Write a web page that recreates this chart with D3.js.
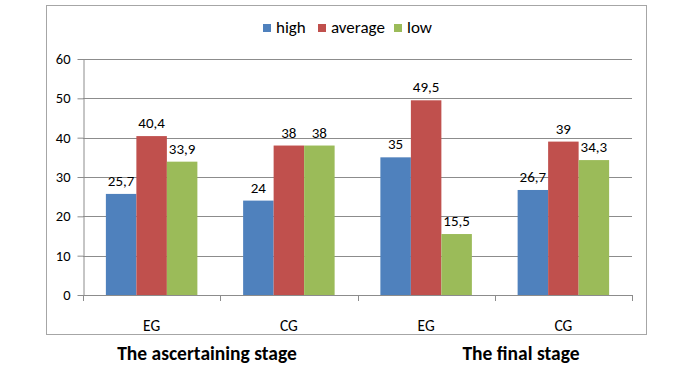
<!DOCTYPE html>
<html>
<head>
<meta charset="utf-8">
<script src="https://cdn.jsdelivr.net/npm/d3@7"></script>
<style>
  body { margin: 0; background: #fff; }
  svg text { font-family: Carlito, "Liberation Sans Narrow", "Open Sans", sans-serif; }
</style>
</head>
<body>
<div id="chart"></div>
<script>
const groups = ["EG1", "CG1", "EG2", "CG2"];
const groupLabels = ["EG", "CG", "EG", "CG"];
const seriesNames = ["high", "average", "low"];
const seriesColors = ["#4F81BD", "#C0504D", "#9BBB59"];
const high = [25.7, 24, 35, 26.7];
const average = [40.4, 38, 49.5, 39];
const low = [33.9, 38, 15.5, 34.3];
const yTicks = [0, 10, 20, 30, 40, 50, 60];
const stageLabels = ["The ascertaining stage", "The final stage"];

const width = 682, height = 366;
const margin = { left: 83, right: 50, top: 59, bottom: 71 };

const svg = d3.select("#chart")
  .append("svg")
  .attr("width", width)
  .attr("height", height);

// outer chart frame
svg.append("rect")
  .attr("x", 46.5).attr("y", 5.5)
  .attr("width", 600).attr("height", 329)
  .attr("fill", "none")
  .attr("stroke", "#a6a6a6");

const x0 = d3.scaleBand()
  .domain(groups)
  .range([margin.left, width - margin.right]);

const x1 = d3.scaleBand()
  .domain(seriesNames)
  .range([0, x0.bandwidth()])
  .paddingOuter(0.75)
  .paddingInner(0);

const y = d3.scaleLinear()
  .domain([0, 60])
  .range([height - margin.bottom, margin.top]);

// gridlines
svg.append("g")
  .selectAll("line")
  .data(yTicks)
  .enter()
  .append("line")
  .attr("x1", margin.left)
  .attr("x2", width - margin.right)
  .attr("y1", d => Math.round(y(d)) + 0.5)
  .attr("y2", d => Math.round(y(d)) + 0.5)
  .attr("stroke", "#8c8c8c");

// y axis
svg.append("g")
  .attr("transform", `translate(${margin.left + 0.5},0)`)
  .call(d3.axisLeft(y).tickValues(yTicks).tickSize(6).tickSizeOuter(0).tickPadding(7))
  .call(g => g.selectAll("line").attr("stroke", "#8c8c8c"))
  .call(g => g.select(".domain").attr("stroke", "#8c8c8c"))
  .call(g => g.selectAll("text").attr("font-size", 14.5).attr("fill", "#000"));

// bars
const data = groups.map((g, i) => ({
  group: g,
  values: [high[i], average[i], low[i]]
}));

const gGroups = svg.append("g")
  .selectAll("g")
  .data(data)
  .enter()
  .append("g")
  .attr("transform", d => `translate(${x0(d.group)},0)`);

gGroups.selectAll("rect")
  .data(d => d.values.map((v, j) => ({ name: seriesNames[j], value: v, color: seriesColors[j] })))
  .enter()
  .append("rect")
  .attr("x", d => x1(d.name))
  .attr("y", d => y(d.value))
  .attr("width", x1.bandwidth())
  .attr("height", d => y(0) - y(d.value))
  .attr("fill", d => d.color);

gGroups.selectAll("text")
  .data(d => d.values.map((v, j) => ({ name: seriesNames[j], value: v })))
  .enter()
  .append("text")
  .attr("x", d => x1(d.name) + x1.bandwidth() / 2)
  .attr("y", d => y(d.value) - 8)
  .attr("text-anchor", "middle")
  .attr("font-size", 15)
  .text(d => String(d.value).replace(".", ","));

// x axis
const boundaries = groups.map(g => x0(g)).concat([width - margin.right]);
svg.append("line")
  .attr("x1", margin.left).attr("x2", width - margin.right)
  .attr("y1", y(0) + 0.5).attr("y2", y(0) + 0.5)
  .attr("stroke", "#8c8c8c");
svg.append("g")
  .selectAll("line")
  .data(boundaries)
  .enter()
  .append("line")
  .attr("x1", d => Math.round(d) + 0.5)
  .attr("x2", d => Math.round(d) + 0.5)
  .attr("y1", y(0))
  .attr("y2", y(0) + 6)
  .attr("stroke", "#8c8c8c");

svg.append("g")
  .selectAll("text")
  .data(groups)
  .enter()
  .append("text")
  .attr("x", d => x0(d) + x0.bandwidth() / 2)
  .attr("y", 331)
  .attr("text-anchor", "middle")
  .attr("font-size", 15.5)
  .text((d, i) => groupLabels[i]);

// stage labels
svg.append("g")
  .selectAll("text")
  .data(stageLabels)
  .enter()
  .append("text")
  .attr("x", (d, i) => i === 0 ? 207 : 521)
  .attr("y", 360)
  .attr("text-anchor", "middle")
  .attr("font-size", 19.5)
  .attr("font-weight", "bold")
  .text(d => d);

// legend
const legendX = [263, 318, 394];
const legend = svg.append("g")
  .selectAll("g")
  .data(seriesNames)
  .enter()
  .append("g")
  .attr("transform", (d, i) => `translate(${legendX[i]},24)`);

legend.append("rect")
  .attr("width", 8).attr("height", 8)
  .attr("fill", (d, i) => seriesColors[i]);

legend.append("text")
  .attr("x", 13)
  .attr("y", 9)
  .attr("font-size", 17)
  .text(d => d);
</script>
</body>
</html>
